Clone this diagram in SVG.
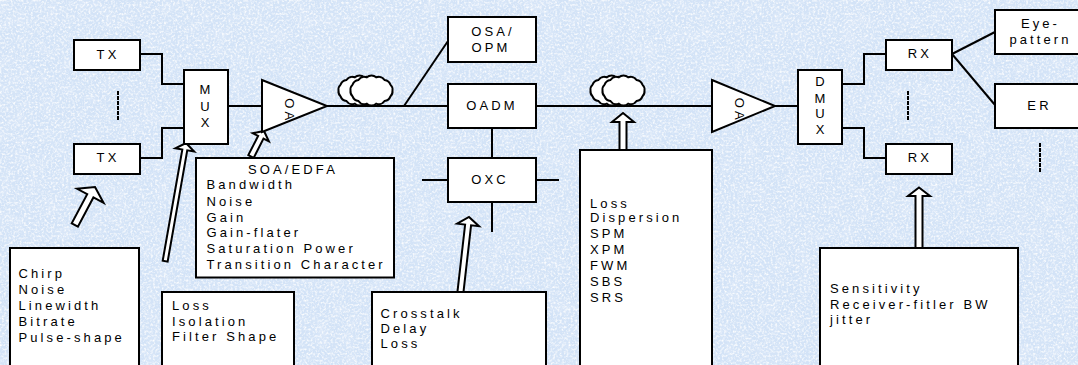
<svg xmlns="http://www.w3.org/2000/svg" width="1078" height="365" viewBox="0 0 1078 365">
<defs>
<style>
.box{fill:#fff;stroke:#000;stroke-width:2}
.ln{fill:none;stroke:#000;stroke-width:2}
.dash{fill:none;stroke:#000;stroke-width:2;stroke-dasharray:4 1}
.ar{fill:#fff;stroke:#000;stroke-width:2;stroke-linejoin:miter}
.t{font-family:"Liberation Sans",Arial,sans-serif;font-size:13px;letter-spacing:3.1px;fill:#000}
.c{text-anchor:middle}
.v{font-family:"Liberation Sans",Arial,sans-serif;font-size:13px;fill:#000;text-anchor:middle}
</style>
<filter id="spk" x="0" y="0" width="1" height="1">
<feTurbulence type="fractalNoise" baseFrequency="0.45" numOctaves="2" seed="5"/>
<feColorMatrix type="matrix" values="0 0 0 0 1  0 0 0 0 1  0 0 0 0 1  2.2 0 0 0 -0.95"/>
</filter>
<filter id="blot" x="0" y="0" width="1" height="1">
<feTurbulence type="fractalNoise" baseFrequency="0.07" numOctaves="2" seed="11"/>
<feColorMatrix type="matrix" values="0 0 0 0 0.70  0 0 0 0 0.80  0 0 0 0 0.94  2.6 0 0 0 -1.15"/>
</filter>
<path id="coil" d="M21,0 A7,7 0 0 1 18.92,5.86 A7,7 0 0 1 13.08,10.56 A7,7 0 0 1 4.67,13.16 A7,7 0 0 1 -4.67,13.16 A7,7 0 0 1 -13.08,10.56 A7,7 0 0 1 -18.92,5.86 A7,7 0 0 1 -21,0 A7,7 0 0 1 -18.92,-5.86 A7,7 0 0 1 -13.08,-10.56 A7,7 0 0 1 -4.67,-13.16 A7,7 0 0 1 4.67,-13.16 A7,7 0 0 1 13.08,-10.56 A7,7 0 0 1 18.92,-5.86 A7,7 0 0 1 21,0 Z" fill="#fff" stroke="#000" stroke-width="2"/>
</defs>

<g id="background">
<rect x="0" y="0" width="1078" height="365" fill="#d3e3f7"/>
<rect x="0" y="0" width="1078" height="365" filter="url(#blot)"/>
<rect x="0" y="0" width="1078" height="365" filter="url(#spk)"/>
</g>

<g id="connectors">
<path class="ln" d="M140,54 H162 V84 H184"/>
<path class="ln" d="M140,158 H162 V128 H184"/>
<path class="ln" d="M228,106 H262"/>
<path class="ln" d="M327,106 H448"/>
<path class="ln" d="M404,106 L448,41"/>
<path class="ln" d="M536,106 H712"/>
<path class="ln" d="M492,128 V158"/>
<path class="ln" d="M422,180 H448 M536,180 H559 M492,202 V232"/>
<path class="ln" d="M775,106 H798"/>
<path class="ln" d="M842,84 H864 V54 H886"/>
<path class="ln" d="M842,128 H864 V158 H886"/>
<path class="ln" d="M952,54 L995,32"/>
<path class="ln" d="M952,54 L995,105"/>
<path class="dash" d="M118,91 V120"/>
<path class="dash" d="M908,91 V120"/>
<path class="dash" d="M1040,143 V172"/>
</g>

<g id="arrows">
<polygon class="ar" transform="translate(95,187) rotate(28)" points="0,0 15,10 3.5,10 3.5,43 -3.5,43 -3.5,10 -15,10"/>
<polygon class="ar" transform="translate(186,143) rotate(10)" points="0,0 9.5,7 2.5,7 2.5,120 -2.5,120 -2.5,7 -9.5,7"/>
<polygon class="ar" transform="translate(264,131) rotate(27)" points="0,0 9,7 3,7 3,28.6 -3,28.6 -3,7 -9,7"/>
<polygon class="ar" transform="translate(469,217) rotate(6.5)" points="0,0 11,8 3,8 3,75.5 -3,75.5 -3,8 -11,8"/>
<polygon class="ar" transform="translate(623,113)" points="0,0 11,9 3.5,9 3.5,37 -3.5,37 -3.5,9 -11,9"/>
<polygon class="ar" transform="translate(919,187.5)" points="0,0 11,8.5 3.5,8.5 3.5,60.5 -3.5,60.5 -3.5,8.5 -11,8.5"/>
</g>

<g id="tx1"><rect class="box" x="74" y="40" width="66" height="30"/><text class="t c" x="108" y="58.5">TX</text></g>
<g id="tx2"><rect class="box" x="74" y="144" width="66" height="30"/><text class="t c" x="108" y="162">TX</text></g>
<g id="mux"><rect class="box" x="184" y="70" width="44" height="74"/>
<text class="v" x="205" y="94">M</text><text class="v" x="205" y="110.7">U</text><text class="v" x="205" y="126.7">X</text></g>
<g id="oa1"><polygon class="box" points="262,80 327,106 262,132"/><text class="t c" transform="translate(285,110.7) rotate(90)">OA</text></g>
<g id="fiber1"><use href="#coil" x="359.5" y="90.5"/><use href="#coil" x="371.5" y="90.5"/></g>
<g id="osa"><rect class="box" x="448" y="17" width="88" height="45"/><text class="t c" x="493" y="36">OSA/</text><text class="t c" x="491" y="52.3">OPM</text></g>
<g id="oadm"><rect class="box" x="448" y="84" width="88" height="44"/><text class="t c" x="492" y="110">OADM</text></g>
<g id="oxc"><rect class="box" x="448" y="158" width="88" height="44"/><text class="t c" x="490" y="184.3">OXC</text></g>
<g id="fiber2"><use href="#coil" x="611.5" y="90.5"/><use href="#coil" x="623.5" y="90.5"/></g>
<g id="oa2"><polygon class="box" points="712,80 775,106 712,132"/><text class="t c" transform="translate(735,110.2) rotate(90)">OA</text></g>
<g id="dmux"><rect class="box" x="798" y="70" width="44" height="74"/>
<text class="v" x="820" y="86">D</text><text class="v" x="820" y="102.7">M</text><text class="v" x="820" y="118.3">U</text><text class="v" x="820" y="134.3">X</text></g>
<g id="rx1"><rect class="box" x="886" y="40" width="66" height="30"/><text class="t c" x="920" y="57.7">RX</text></g>
<g id="rx2"><rect class="box" x="886" y="144" width="66" height="30"/><text class="t c" x="920" y="162.3">RX</text></g>
<g id="eye"><rect class="box" x="995" y="10" width="88" height="44"/><text class="t c" x="1040.5" y="28.3">Eye-</text><text class="t c" x="1040.5" y="44.3">pattern</text></g>
<g id="er"><rect class="box" x="995" y="84" width="88" height="44"/><text class="t c" x="1039.5" y="110">ER</text></g>

<g id="soa-params"><rect class="box" x="196" y="158" width="198" height="119.5"/>
<text class="t c" x="293" y="174">SOA/EDFA</text>
<text class="t" x="206.5" y="189.3">Bandwidth</text>
<text class="t" x="206.5" y="205.5">Noise</text>
<text class="t" x="206.5" y="221.5">Gain</text>
<text class="t" x="206.5" y="237">Gain-flater</text>
<text class="t" x="206.5" y="253">Saturation Power</text>
<text class="t" x="206.5" y="269">Transition Character</text></g>

<g id="tx-params"><rect class="box" x="10" y="248" width="129" height="130"/>
<text class="t" x="18.5" y="278">Chirp</text>
<text class="t" x="18.5" y="294">Noise</text>
<text class="t" x="18.5" y="310">Linewidth</text>
<text class="t" x="18.5" y="326">Bitrate</text>
<text class="t" x="18.5" y="342">Pulse-shape</text></g>

<g id="mux-params"><rect class="box" x="162" y="292" width="132" height="90"/>
<text class="t" x="172" y="310">Loss</text>
<text class="t" x="172" y="326">Isolation</text>
<text class="t" x="172" y="341">Filter Shape</text></g>

<g id="oxc-params"><rect class="box" x="372" y="292" width="174" height="90"/>
<text class="t" x="380.5" y="317.7">Crosstalk</text>
<text class="t" x="380.5" y="332.7">Delay</text>
<text class="t" x="380.5" y="347.7">Loss</text></g>

<g id="fiber-params"><rect class="box" x="580" y="150" width="132" height="230"/>
<text class="t" x="590" y="207.7">Loss</text>
<text class="t" x="590" y="222.3">Dispersion</text>
<text class="t" x="590" y="237.7">SPM</text>
<text class="t" x="590" y="254">XPM</text>
<text class="t" x="590" y="270">FWM</text>
<text class="t" x="590" y="285.7">SBS</text>
<text class="t" x="590" y="301.7">SRS</text></g>

<g id="rx-params"><rect class="box" x="820" y="248" width="198" height="130"/>
<text class="t" x="830" y="292.7">Sensitivity</text>
<text class="t" x="830" y="309">Receiver-fitler BW</text>
<text class="t" x="830" y="324.3">jitter</text></g>
</svg>
